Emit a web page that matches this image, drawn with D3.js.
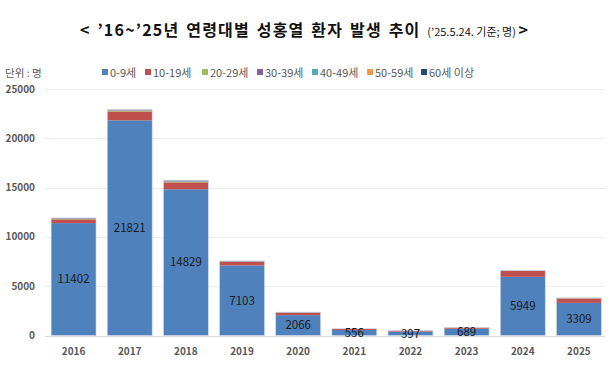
<!DOCTYPE html>
<html><head><meta charset="utf-8">
<script src="https://cdn.jsdelivr.net/npm/d3@7"></script>
<style>
body{margin:0;background:#fff;}
text{font-family:"Noto Sans CJK KR","Noto Sans",sans-serif;}
</style></head>
<body><svg id="c" width="610" height="366"></svg>
<script>
const years = ["2016","2017","2018","2019","2020","2021","2022","2023","2024","2025"];
const seriesNames = ["0-9세","10-19세","20-29세","30-39세","40-49세","50-59세","60세 이상"];
const age0_9   = [11402,21821,14829,7103,2066,556,397,689,5949,3309];
const age10_19 = [380,900,700,380,250,100,80,100,600,450];
const age20_29 = [40,50,50,20,20,10,10,10,20,20];
const age30_39 = [40,50,50,20,15,10,5,10,15,10];
const age40_49 = [20,30,30,10,10,5,5,5,10,10];
const age50_59 = [10,20,20,10,5,5,5,5,5,5];
const age60    = [30,40,60,20,10,5,5,5,10,10];
const yTicks = [0,5000,10000,15000,20000,25000];
const colors = ["#4F81BD","#C0504D","#9BBB59","#8064A2","#4BACC6","#F79646","#1F497D"];

const seriesVals = [age0_9,age10_19,age20_29,age30_39,age40_49,age50_59,age60];
const keys = seriesNames;
const table = years.map((y,i)=>{const o={year:y}; keys.forEach((k,j)=>o[k]=seriesVals[j][i]); return o;});

const svg = d3.select("#c");
const x = d3.scaleBand().domain(years).range([45.5,607]).paddingInner(0.2).paddingOuter(0.1);
const y = d3.scaleLinear().domain([0,25000]).range([335.5,89]);

svg.append("g").selectAll("line").data(yTicks).join("line")
  .attr("x1",45).attr("x2",605).attr("y1",d=>Math.round(y(d))+0.5).attr("y2",d=>Math.round(y(d))+0.5)
  .attr("stroke",d=>d===0?"#d9d9d9":"#ececec").attr("stroke-width",1);

svg.append("g").selectAll("text").data(yTicks).join("text")
  .attr("x",35).attr("y",d=>y(d)).attr("dy","0.35em").attr("text-anchor","end")
  .attr("font-size",10).attr("font-weight","bold").attr("fill","#595959").text(d=>d);

const stack = d3.stack().keys(keys)(table);
svg.append("g").selectAll("g").data(stack).join("g").attr("fill",(d,i)=>colors[i])
  .selectAll("rect").data(d=>d).join("rect")
  .attr("x",d=>x(d.data.year)).attr("width",x.bandwidth())
  .attr("y",d=>y(d[1])).attr("height",d=>y(d[0])-y(d[1]));

svg.append("g").selectAll("rect").data(stack[stack.length-1]).join("rect")
  .attr("x",d=>x(d.data.year)).attr("width",x.bandwidth())
  .attr("y",d=>y(d[1])).attr("height",d=>y(0)-y(d[1]))
  .attr("fill","none").attr("stroke","#d5dbe6").attr("stroke-width",0.6);

svg.append("g").selectAll("text").data(stack[0]).join("text")
  .attr("x",d=>x(d.data.year)+x.bandwidth()/2).attr("y",d=>(y(d[0])+y(d[1]))/2)
  .attr("dy","0.35em").attr("text-anchor","middle").attr("font-size",11.5)
  .attr("fill","#1a1a1a").text(d=>d.data[keys[0]]);

svg.append("g").selectAll("text").data(years).join("text")
  .attr("x",d=>x(d)+x.bandwidth()/2).attr("y",351).attr("dy","0.35em")
  .attr("text-anchor","middle").attr("font-size",10).attr("font-weight","bold")
  .attr("fill","#595959").text(d=>d);

const legX = [102,145,202,257,312,367,421];
const lg = svg.append("g").selectAll("g").data(keys).join("g")
  .attr("transform",(d,i)=>`translate(${legX[i]},73)`);
lg.append("rect").attr("x",0).attr("y",-4).attr("width",6).attr("height",6).attr("fill",(d,i)=>colors[i]);
lg.append("text").attr("x",8).attr("y",0).attr("dy","0.35em").attr("font-size",11)
  .attr("fill","#595959").text(d=>d);

svg.append("text").attr("x",5).attr("y",73).attr("dy","0.35em").attr("font-size",10.5)
  .attr("fill","#595959").text("단위 : 명");

const t = svg.append("text").attr("x",80).attr("y",30).attr("dy","0.35em").attr("fill","#111");
t.append("tspan").attr("font-size",16).attr("font-weight","bold").attr("letter-spacing",1.2)
  .attr("word-spacing",2).text("< ’16~’25년 연령대별 성홍열 환자 발생 추이 ");
t.append("tspan").attr("font-size",11).attr("letter-spacing",0).attr("word-spacing",0).text("(’25.5.24. 기준; 명) ");
t.append("tspan").attr("font-size",16).attr("font-weight","bold").text(">");
</script></body></html>
